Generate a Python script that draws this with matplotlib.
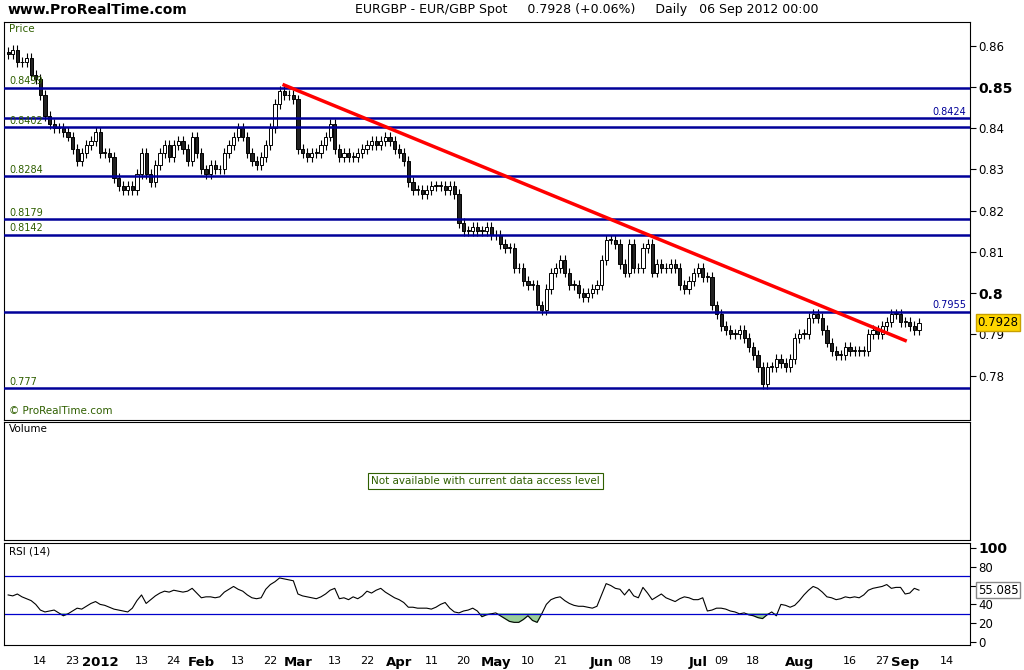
import matplotlib
matplotlib.use("Agg")
import matplotlib.pyplot as plt
import numpy as np
import pandas as pd

dates = pd.bdate_range("2011-12-05", "2012-09-06")
closes = [
0.858,0.859,0.856,0.856,0.857,0.853,0.852,0.848,0.843,0.841,
0.840,0.840,0.839,0.838,0.835,0.832,0.834,0.836,0.837,0.839,
0.834,0.834,0.833,0.828,0.826,0.825,0.826,0.825,0.829,0.834,
0.829,0.827,0.831,0.834,0.836,0.833,0.836,0.837,0.835,0.832,
0.838,0.834,0.830,0.829,0.831,0.830,0.830,0.834,0.836,0.838,
0.840,0.838,0.834,0.832,0.831,0.833,0.836,0.840,0.846,0.849,
0.848,0.848,0.847,0.835,0.834,0.833,0.834,0.834,0.836,0.838,
0.841,0.835,0.833,0.834,0.833,0.833,0.834,0.835,0.836,0.837,
0.836,0.837,0.838,0.837,0.835,0.834,0.832,0.827,0.825,0.825,
0.824,0.825,0.826,0.826,0.826,0.825,0.826,0.824,0.817,0.815,
0.815,0.816,0.815,0.815,0.816,0.814,0.814,0.812,0.811,0.811,
0.806,0.806,0.803,0.802,0.802,0.797,0.796,0.801,0.805,0.806,
0.808,0.805,0.802,0.802,0.800,0.799,0.800,0.801,0.802,0.808,
0.813,0.813,0.812,0.807,0.805,0.812,0.806,0.806,0.811,0.812,
0.805,0.807,0.806,0.806,0.807,0.806,0.802,0.801,0.803,0.805,
0.806,0.804,0.804,0.797,0.795,0.792,0.791,0.790,0.790,0.791,
0.789,0.787,0.785,0.782,0.778,0.782,0.782,0.784,0.783,0.782,
0.784,0.789,0.790,0.790,0.794,0.795,0.794,0.791,0.788,0.786,
0.785,0.785,0.787,0.786,0.786,0.786,0.786,0.790,0.791,0.790,
0.792,0.793,0.795,0.795,0.793,0.793,0.792,0.791,0.7928]
first_open = 0.8585
rsi = [
50,49,51,48,46,44,40,34,32,33, 34,31,28,30,33,36,35,38,41,43,
40,39,37,35,34,33,32,36,44,50, 41,45,49,52,54,53,55,54,53,54,
57,52,47,48,48,47,48,53,56,59, 56,54,50,47,46,47,56,61,64,68,
67,66,65,51,49,48,47,46,48,51, 55,57,46,47,45,48,46,49,54,52,
55,57,53,50,47,45,42,37,37,36, 36,36,35,37,40,42,36,32,31,33,
34,36,33,27,29,30,31,28,25,22, 21,21,24,28,23,21,30,40,45,47,
48,44,41,39,38,38,37,36,38,50, 62,60,57,56,50,56,49,47,58,52,
45,48,51,47,45,43,46,48,47,45, 45,47,33,34,36,36,35,33,32,30,
31,29,28,26,25,29,32,28,40,39, 37,39,44,50,55,59,57,53,48,47,
45,46,48,47,48,47,50,55,57,58, 59,61,57,58,58,51,52,57,55.085]
levels = [0.8499, 0.8424, 0.8402, 0.8284, 0.8179, 0.8142, 0.7955, 0.777]
left_labels = ["0.8499", "0.8402", "0.8284", "0.8179", "0.8142", "0.777"]
right_labels = ["0.8424", "0.7955"]
trend_dates = ["2012-02-27", "2012-09-03"]
trend_prices = [0.8505, 0.7885]
tick_dates = ["2011-12-14","2011-12-23","2012-01-02","2012-01-13","2012-01-24","2012-02-01",
 "2012-02-13","2012-02-22","2012-03-01","2012-03-13","2012-03-22","2012-04-02","2012-04-11",
 "2012-04-20","2012-05-01","2012-05-10","2012-05-21","2012-06-01","2012-06-08","2012-06-19",
 "2012-07-02","2012-07-09","2012-07-18","2012-08-01","2012-08-16","2012-08-27","2012-09-03","2012-09-14"]
tick_labels = ["14","23","2012","13","24","Feb","13","22","Mar","13","22","Apr","11","20","May",
 "10","21","Jun","08","19","Jul","09","18","Aug","16","27","Sep","14"]

closes = np.array(closes)
opens = np.concatenate([[first_open], closes[:-1]])
highs = np.maximum(opens, closes) + 0.0012
lows = np.minimum(opens, closes) - 0.0012
n = len(closes)
idx = np.arange(n)
alld = pd.bdate_range("2011-12-05", "2012-09-30")
def di(d):
    return alld.get_indexer([pd.Timestamp(d)])[0]

W, H = 1024, 670
fig = plt.figure(figsize=(W/100, H/100), dpi=100)
def ax_at(top, bot):
    return fig.add_axes([4/W, 1-bot/H, 966/W, (bot-top)/H])
axp = ax_at(22, 420)
axv = ax_at(422, 540)
axr = ax_at(543, 645)
xl = (-0.9, 209.1)
green = "#2f5f00"
for a in (axp, axv, axr):
    a.set_xlim(*xl)
    a.set_xticks([])
    for s in a.spines.values():
        s.set_linewidth(0.8)
    a.yaxis.tick_right()
    a.tick_params(axis="y", labelsize=8.5, length=4, pad=2)

# price
for i in idx:
    up = closes[i] >= opens[i]
    axp.vlines(i, lows[i], highs[i], color="black", lw=0.8, zorder=2)
    b0 = min(opens[i], closes[i]); h = max(abs(closes[i]-opens[i]), 0.0002)
    axp.add_patch(plt.Rectangle((i-0.35, b0), 0.7, h, facecolor="white" if up else "#222222",
                                edgecolor="black", lw=0.7, zorder=3))
for lv in levels:
    axp.axhline(lv, color="#000099", lw=1.8, zorder=4)
for t in left_labels:
    axp.text(0.2, float(t)+0.0003, t, color=green, fontsize=7, va="bottom", ha="left", zorder=5)
for t in right_labels:
    axp.text(xl[1]-0.8, float(t)+0.0003, t, color="#000099", fontsize=7, va="bottom", ha="right", zorder=5)
axp.plot([di(d) for d in trend_dates], trend_prices, color="red", lw=2.5, zorder=5)
axp.set_ylim(0.7692, 0.8658)
pt = [0.78, 0.79, 0.80, 0.81, 0.82, 0.83, 0.84, 0.85, 0.86]
axp.set_yticks(pt)
axp.set_yticklabels(["0.78","0.79","0.8","0.81","0.82","0.83","0.84","0.85","0.86"])
for lab, v in zip(axp.get_yticklabels(), pt):
    if v in (0.80, 0.85):
        lab.set_fontweight("bold"); lab.set_fontsize(10)
axp.text(0.005, 0.995, "Price", transform=axp.transAxes, color=green, fontsize=7.5, va="top")
axp.text(0.005, 0.01, "© ProRealTime.com", transform=axp.transAxes, color=green, fontsize=7.5, va="bottom")
axp.text(1.008, closes[-1], "0.7928", transform=axp.get_yaxis_transform(), fontsize=8.5, va="center",
         bbox=dict(boxstyle="square,pad=0.15", fc="#ffd700", ec="#c8a000"))

# volume
axv.set_yticks([])
axv.text(0.005, 0.985, "Volume", transform=axv.transAxes, fontsize=7.5, va="top")
axv.text(0.498, 0.5, "Not available with current data access level", transform=axv.transAxes,
         color=green, fontsize=7.5, ha="center", va="center",
         bbox=dict(boxstyle="square,pad=0.3", fc="white", ec=green, lw=0.8))

# rsi
rsi = np.array(rsi, dtype=float)
axr.plot(idx, rsi, color="black", lw=0.8)
axr.axhline(70, color="#0000cc", lw=0.9)
axr.axhline(30, color="#0000cc", lw=0.9)
axr.fill_between(idx, rsi, 30, where=rsi < 30, interpolate=True, color="#8fc88f", alpha=0.9)
axr.set_ylim(-3, 105)
axr.set_yticks([0, 20, 40, 60, 80, 100])
axr.set_yticklabels(["0","20","40","","80","100"])
axr.get_yticklabels()[-1].set_fontsize(10); axr.get_yticklabels()[-1].set_fontweight("bold")
axr.text(0.005, 0.97, "RSI (14)", transform=axr.transAxes, fontsize=7.5, va="top")
axr.text(1.008, rsi[-1], "55.085", transform=axr.get_yaxis_transform(), fontsize=8.5, va="center",
         bbox=dict(boxstyle="square,pad=0.15", fc="white", ec="#888888"))

# x tick labels
axr.set_xticks([di(d) for d in tick_dates])
axr.set_xticklabels(tick_labels, fontsize=8)
axr.tick_params(axis="x", length=0, pad=8)
for lab in axr.get_xticklabels():
    if not lab.get_text().isdigit() or lab.get_text() == "2012":
        lab.set_fontweight("bold"); lab.set_fontsize(9.5)

fig.text(8/W, 1-10/H, "www.ProRealTime.com", fontsize=10, fontweight="bold", va="center")
fig.text(355/W, 1-10/H, "EURGBP - EUR/GBP Spot     0.7928 (+0.06%)     Daily   06 Sep 2012 00:00",
         fontsize=9, va="center")
fig.savefig("out.png", dpi=100)
